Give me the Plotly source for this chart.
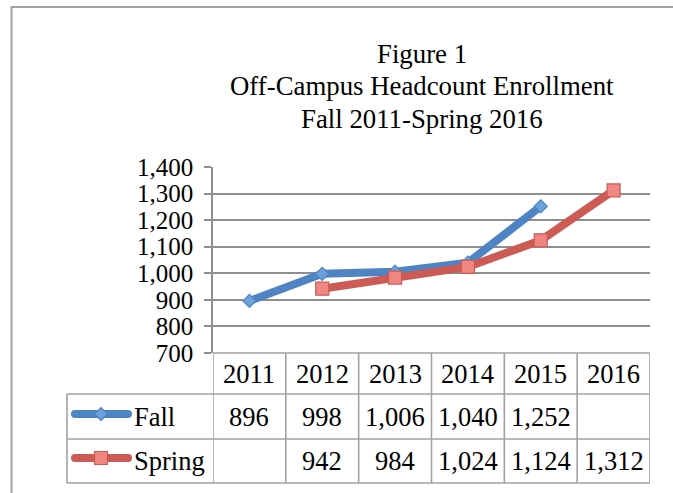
import plotly.graph_objects as go

# ---- data ----
years = ["2011", "2012", "2013", "2014", "2015", "2016"]
fall = [896, 998, 1006, 1040, 1252, None]
spring = [None, 942, 984, 1024, 1124, 1312]
series_names = ["Fall", "Spring"]
title_lines = ["Figure 1", "Off-Campus Headcount Enrollment", "Fall 2011-Spring 2016"]
y_ticks = [700, 800, 900, 1000, 1100, 1200, 1300, 1400]

W, H = 673, 493
FONT = "Times New Roman, Liberation Serif, serif"
FS = 26.5
TICK_FS = 25
BLUE, BLUE_FILL = "#4f84c4", "#6c9fdc"
RED, RED_FILL = "#cc5b56", "#ef8682"
GRID = "#8e8e8e"
TABLE = "#a2a2a2"


def px(x):
    return x / W


def py(y):
    return 1 - y / H


plot_l, plot_r, plot_t, plot_b = 213, 650, 167, 353
tab_left = 67
row_lines = [353, 394, 439, 483]

fig = go.Figure()
idx = list(range(len(years)))

fig.add_trace(go.Scatter(
    x=idx, y=fall, mode="lines+markers", name=series_names[0],
    line=dict(color=BLUE, width=8),
    marker=dict(symbol="diamond", size=10, color=BLUE_FILL, line=dict(color=BLUE, width=1.2)),
))
fig.add_trace(go.Scatter(
    x=idx, y=spring, mode="lines+markers", name=series_names[1],
    line=dict(color=RED, width=8),
    marker=dict(symbol="square", size=13, color=RED_FILL, line=dict(color=RED, width=1.2)),
))

# legend keys inside the data table (pixel overlay axes)
for name, (color, fill, sym, msize), ky in zip(
        series_names,
        [(BLUE, BLUE_FILL, "diamond", 10), (RED, RED_FILL, "square", 13)],
        [414, 458]):
    fig.add_trace(go.Scatter(
        x=[75, 128], y=[ky, ky], xaxis="x2", yaxis="y2", mode="lines+markers",
        line=dict(color=color, width=8), marker=dict(size=8, color=color),
        hoverinfo="skip", showlegend=False))
    fig.add_trace(go.Scatter(
        x=[101], y=[ky], xaxis="x2", yaxis="y2", mode="markers",
        marker=dict(symbol=sym, size=msize, color=fill, line=dict(color=color, width=1.2)),
        hoverinfo="skip", showlegend=False))

shapes = []
annotations = []

# outer chart border (runs off right and bottom edges)
shapes.append(dict(type="rect", xref="paper", yref="paper",
                   x0=px(11.5), x1=px(W + 20), y0=py(H + 20), y1=py(7),
                   line=dict(color="#a0a0a0", width=2), layer="above"))

# data table grid
shapes.append(dict(type="line", xref="paper", yref="paper", x0=px(plot_l), x1=px(plot_r),
                   y0=py(row_lines[0]), y1=py(row_lines[0]), line=dict(color=TABLE, width=1.6)))
for yl in row_lines[1:]:
    shapes.append(dict(type="line", xref="paper", yref="paper", x0=px(tab_left), x1=px(plot_r),
                       y0=py(yl), y1=py(yl), line=dict(color=TABLE, width=1.6)))
for i in range(len(years) + 1):
    shapes.append(dict(type="line", xref="x", yref="paper", x0=i - 0.5, x1=i - 0.5,
                       y0=py(row_lines[-1]), y1=py(row_lines[0]), line=dict(color=TABLE, width=1.6)))
shapes.append(dict(type="line", xref="paper", yref="paper", x0=px(tab_left), x1=px(tab_left),
                   y0=py(row_lines[-1]), y1=py(row_lines[1]), line=dict(color=TABLE, width=1.6)))


def cell(text, x, yc, xref="x", xanchor="center"):
    annotations.append(dict(text=text, x=x, y=py(yc), xref=xref, yref="paper",
                            xanchor=xanchor, yanchor="middle", showarrow=False,
                            font=dict(family=FONT, size=FS, color="black")))


for i, yr in enumerate(years):
    cell(yr, i, (row_lines[0] + row_lines[1]) / 2)
for r, vals in enumerate([fall, spring]):
    yc = (row_lines[r + 1] + row_lines[r + 2]) / 2
    for i, v in enumerate(vals):
        if v is not None:
            cell(f"{v:,}", i, yc)
    cell(series_names[r], px(132), yc, xref="paper", xanchor="left")

# title
for t, yc in zip(title_lines, [54, 86, 119]):
    annotations.append(dict(text=t, x=px(422), y=py(yc), xref="paper", yref="paper",
                            xanchor="center", yanchor="middle", showarrow=False,
                            font=dict(family=FONT, size=26.8, color="black")))

fig.update_layout(
    width=W, height=H, autosize=False,
    margin=dict(l=0, r=0, t=0, b=0, pad=0, autoexpand=False),
    paper_bgcolor="white", plot_bgcolor="rgba(0,0,0,0)", showlegend=False,
    xaxis=dict(domain=[px(plot_l), px(plot_r)], range=[-0.5, len(years) - 0.5], automargin=False,
               showgrid=False, zeroline=False, showticklabels=False, ticks="", showline=False),
    yaxis=dict(domain=[py(plot_b), py(plot_t)], range=[700, 1400], tickvals=y_ticks, automargin=False,
               tickformat=",d", showgrid=True, gridcolor=GRID, gridwidth=1.5,
               zeroline=False, showline=True, linecolor=GRID, linewidth=1.5,
               ticks="outside", ticklen=7, tickcolor=GRID, tickwidth=1.5,
               ticklabelstandoff=6,
               tickfont=dict(family=FONT, size=TICK_FS, color="black")),
    xaxis2=dict(domain=[0, 1], range=[0, W], visible=False, anchor="y2", automargin=False),
    yaxis2=dict(domain=[0, 1], range=[H, 0], visible=False, anchor="x2", automargin=False),
    shapes=shapes, annotations=annotations,
)

fig.write_html(
    "out.html",
    config={"displayModeBar": False, "responsive": False},
    post_script="document.body.style.margin='0';",
)
